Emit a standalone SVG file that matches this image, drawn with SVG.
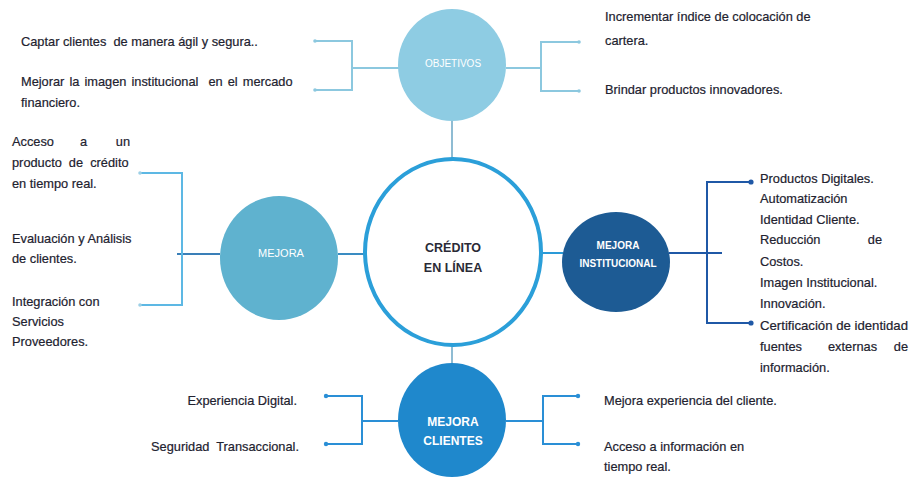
<svg xmlns="http://www.w3.org/2000/svg" width="911" height="477" viewBox="0 0 911 477">
<style>
.t{font-family:"Liberation Sans",Arial,sans-serif;font-size:12.8px;fill:#22222f;stroke:#22222f;stroke-width:0.2;white-space:pre}
.lb{font-family:"Liberation Sans",Arial,sans-serif;fill:#ffffff;text-anchor:middle}
.c{fill:none;stroke-width:2}
.obj{stroke:#8cc8df}
.mej{stroke:#5db8e4}
.ins{stroke:#1f58a6}
.cli{stroke:#2a8fd6}
</style>
<rect width="911" height="477" fill="#ffffff"/>
<g id="connectors">
  <line x1="452" y1="120" x2="452" y2="158" stroke="#6aa6c4" stroke-width="1.5"/>
  <polyline class="c obj" points="399,68 352,68"/>
  <polyline class="c obj" points="315,41 352,41 352,90 315,90"/>
  <polyline class="c obj" points="506,68 541,68"/>
  <polyline class="c obj" points="579,42 541,42 541,91 579,91"/>
  <circle cx="315" cy="41" r="1.8" fill="#8cc8df"/>
  <circle cx="315" cy="90" r="1.8" fill="#8cc8df"/>
  <circle cx="579" cy="42" r="1.8" fill="#8cc8df"/>
  <circle cx="579" cy="91" r="1.8" fill="#8cc8df"/>
  <line x1="338" y1="254" x2="365" y2="254" stroke="#3a8cc2" stroke-width="2"/>
  <line x1="177" y1="254" x2="220" y2="254" stroke="#3a7fb8" stroke-width="2"/>
  <polyline class="c mej" points="140,173 182,173 182,305 140,305"/>
  <circle cx="140" cy="173" r="1.8" fill="#9ccfe6"/>
  <circle cx="140" cy="305" r="1.8" fill="#9ccfe6"/>
  <line x1="541" y1="253" x2="563" y2="253" stroke="#2a9ad8" stroke-width="2"/>
  <line x1="669" y1="253" x2="722" y2="253" class="c ins"/>
  <polyline class="c ins" points="751,182 707,182 707,323 751,323"/>
  <circle cx="751" cy="182" r="2.6" fill="#1f58a6"/>
  <circle cx="751" cy="323" r="2.6" fill="#1f58a6"/>
  <line x1="452" y1="346" x2="452" y2="364" stroke="#6aa6c4" stroke-width="1.5"/>
  <polyline class="c cli" points="398,421 362,421"/>
  <polyline class="c cli" points="326,396 362,396 362,444 326,444"/>
  <polyline class="c cli" points="506,421 543,421"/>
  <polyline class="c cli" points="578,396 543,396 543,444 578,444"/>
  <circle cx="326" cy="396" r="2.2" fill="#2a8fd6"/>
  <circle cx="326" cy="444" r="2.2" fill="#2a8fd6"/>
  <circle cx="578" cy="396" r="2.2" fill="#2a8fd6"/>
  <circle cx="578" cy="444" r="2.2" fill="#2a8fd6"/>
</g>
<g id="credito">
  <ellipse cx="453" cy="252" rx="88" ry="93" fill="#ffffff" stroke="#2b9fd9" stroke-width="4"/>
  <text x="453" y="252" text-anchor="middle" font-family="Liberation Sans,Arial,sans-serif" font-size="12.5" font-weight="bold" fill="#2a2a36">CRÉDITO</text>
  <text x="453" y="272" text-anchor="middle" font-family="Liberation Sans,Arial,sans-serif" font-size="12.5" font-weight="bold" fill="#2a2a36">EN LÍNEA</text>
</g>
<g id="objetivos">
  <ellipse cx="452" cy="65" rx="54" ry="56" fill="#8ecce3"/>
  <text class="lb" x="453" y="67" font-size="10">OBJETIVOS</text>
</g>
<g id="mejora">
  <ellipse cx="279" cy="258" rx="59" ry="62" fill="#5fb2cf"/>
  <text class="lb" x="281" y="257" font-size="11">MEJORA</text>
</g>
<g id="mejora-institucional">
  <ellipse cx="616" cy="262" rx="54" ry="50" fill="#1d5b94"/>
  <text class="lb" x="618" y="249" font-size="10" font-weight="bold">MEJORA</text>
  <text class="lb" x="618" y="267" font-size="10" font-weight="bold">INSTITUCIONAL</text>
</g>
<g id="mejora-clientes">
  <ellipse cx="452" cy="420" rx="54" ry="57" fill="#1f88cc"/>
  <text class="lb" x="453" y="426" font-size="12" font-weight="bold">MEJORA</text>
  <text class="lb" x="453" y="445" font-size="12" font-weight="bold">CLIENTES</text>
</g>
<g id="textos-objetivos">
  <text class="t" x="21" y="46">Captar clientes  de manera ágil y segura..</text>
  <text class="t" x="21" y="86" word-spacing="1.5">Mejorar la imagen institucional  en el mercado</text>
  <text class="t" x="21" y="107">financiero.</text>
  <text class="t" x="605" y="21">Incrementar índice de colocación de</text>
  <text class="t" x="605" y="45">cartera.</text>
  <text class="t" x="605" y="94">Brindar productos innovadores.</text>
</g>
<g id="textos-mejora">
  <text class="t" x="12" y="146">Acceso</text>
  <text class="t" x="80" y="146">a</text>
  <text class="t" x="130" y="146" text-anchor="end">un</text>
  <text class="t" x="12" y="167" word-spacing="3.5">producto de crédito</text>
  <text class="t" x="12" y="188">en tiempo real.</text>
  <text class="t" x="12" y="243">Evaluación y Análisis</text>
  <text class="t" x="12" y="263">de clientes.</text>
  <text class="t" x="12" y="306">Integración con</text>
  <text class="t" x="12" y="326">Servicios</text>
  <text class="t" x="12" y="346">Proveedores.</text>
</g>
<g id="textos-institucional">
  <text class="t" x="760" y="183">Productos Digitales.</text>
  <text class="t" x="760" y="203">Automatización</text>
  <text class="t" x="760" y="224">Identidad Cliente.</text>
  <text class="t" x="760" y="244">Reducción</text>
  <text class="t" x="882" y="244" text-anchor="end">de</text>
  <text class="t" x="760" y="266">Costos.</text>
  <text class="t" x="760" y="287">Imagen Institucional.</text>
  <text class="t" x="760" y="308">Innovación.</text>
  <text class="t" x="760" y="330" textLength="148" lengthAdjust="spacingAndGlyphs">Certificación de identidad</text>
  <text class="t" x="760" y="351">fuentes</text>
  <text class="t" x="828" y="351">externas</text>
  <text class="t" x="908" y="351" text-anchor="end">de</text>
  <text class="t" x="760" y="372">información.</text>
</g>
<g id="textos-clientes">
  <text class="t" x="297" y="405" text-anchor="end">Experiencia Digital.</text>
  <text class="t" x="299" y="451" text-anchor="end">Seguridad  Transaccional.</text>
  <text class="t" x="604" y="405">Mejora experiencia del cliente.</text>
  <text class="t" x="604" y="451">Acceso a información en</text>
  <text class="t" x="604" y="471">tiempo real.</text>
</g>
</svg>
